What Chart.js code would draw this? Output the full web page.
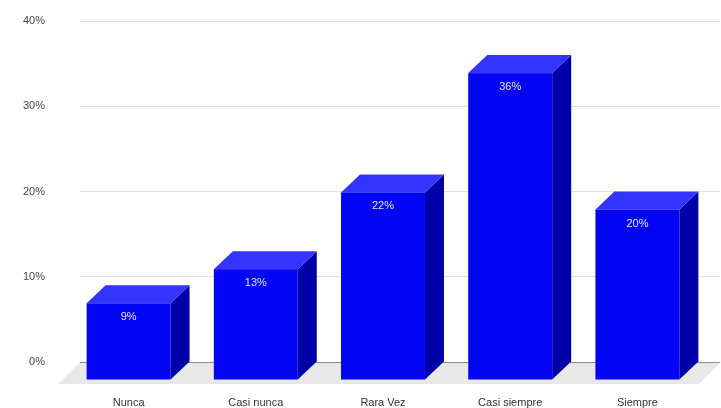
<!DOCTYPE html>
<html>
<head>
<meta charset="utf-8">
<script src="https://cdn.jsdelivr.net/npm/chart.js@4.4.0/dist/chart.umd.min.js"></script>
<style>
  html, body { margin: 0; padding: 0; background: #fff; }
</style>
</head>
<body>
<canvas id="chart" width="721" height="408"></canvas>
<script>
// --- data ---
const categories = ["Nunca", "Casi nunca", "Rara Vez", "Casi siempre", "Siempre"];
const percentValues = [9, 13, 22, 36, 20];
const yMin = 0;
const yMax = 40;
const yStep = 10;

// 3D depth of the bars (px), front face drops down-left
const DX = 19;
const DY = 18;
const FLOOR = 22;

const FRONT = "#0505f5";
const TOP = "#3434ff";
const SIDE = "#0000a8";

function poly(ctx, pts, color) {
  ctx.beginPath();
  ctx.moveTo(pts[0][0], pts[0][1]);
  for (let i = 1; i < pts.length; i++) ctx.lineTo(pts[i][0], pts[i][1]);
  ctx.closePath();
  ctx.fillStyle = color;
  ctx.fill();
}

const bars3d = {
  id: "bars3d",
  beforeDraw(chart) {
    // grey floor under the bars
    const ctx = chart.ctx;
    const area = chart.chartArea;
    const base = chart.scales.y.getPixelForValue(0);
    ctx.save();
    poly(ctx, [
      [area.left - 4, base],
      [area.right + 1, base],
      [area.right + 1 - FLOOR, base + FLOOR],
      [area.left - 4 - FLOOR, base + FLOOR]
    ], "#e8e8e8");
    ctx.restore();
  },
  afterDatasetsDraw(chart) {
    const ctx = chart.ctx;
    const meta = chart.getDatasetMeta(0);
    ctx.save();
    meta.data.forEach((bar, i) => {
      const p = bar.getProps(["x", "y", "base", "width"], true);
      const bl = p.x - p.width / 2;
      const br = p.x + p.width / 2;
      const fl = bl - DX, fr = br - DX;
      const ft = p.y + DY, fb = p.base + DY;
      // side face
      poly(ctx, [[fr, ft], [br, p.y], [br, p.base], [fr, fb]], SIDE);
      // top face
      poly(ctx, [[fl, ft], [bl, p.y], [br, p.y], [fr, ft]], TOP);
      // front face
      ctx.fillStyle = FRONT;
      ctx.fillRect(fl, ft, p.width, fb - ft);
      // value label
      ctx.fillStyle = "#e4e4ff";
      ctx.font = "11px 'Liberation Sans', Arial, sans-serif";
      ctx.textAlign = "center";
      ctx.textBaseline = "middle";
      ctx.fillText(percentValues[i] + "%", (fl + fr) / 2, ft + 14);
    });
    ctx.restore();
  }
};

const ctx = document.getElementById("chart").getContext("2d");
const chart = new Chart(ctx, {
  type: "bar",
  data: {
    labels: categories,
    datasets: [{
      data: percentValues,
      backgroundColor: "rgba(0,0,0,0)",
      borderWidth: 0,
      barPercentage: 0.66,
      categoryPercentage: 1.0
    }]
  },
  options: {
    responsive: false,
    animation: false,
    layout: { padding: { top: 21, right: 1, left: 0, bottom: 0 } },
    plugins: {
      legend: { display: false },
      tooltip: { enabled: false }
    },
    scales: {
      x: {
        grid: { display: false },
        border: { display: false },
        ticks: {
          color: "#333",
          font: { family: "'Liberation Sans', Arial, sans-serif", size: 11 },
          padding: 26,
          labelOffset: -DX,
          maxRotation: 0
        },
        afterFit(scale) { scale.height = 46; }
      },
      y: {
        min: yMin,
        max: yMax,
        border: { display: false },
        grid: {
          color: (c) => (c.tick && c.tick.value === 0 ? "#8c8c8c" : "#e2e2e2"),
          tickLength: 4
        },
        ticks: {
          stepSize: yStep,
          color: "#444",
          font: { family: "'Liberation Sans', Arial, sans-serif", size: 11 },
          padding: 35,
          callback: (v) => v + "%"
        },
        afterFit(scale) {
          scale.width = 84;
          // tick padding is meant for the left gap only
          scale.paddingTop = 0;
          scale.paddingBottom = 0;
        }
      }
    }
  },
  plugins: [bars3d]
});
</script>
</body>
</html>
